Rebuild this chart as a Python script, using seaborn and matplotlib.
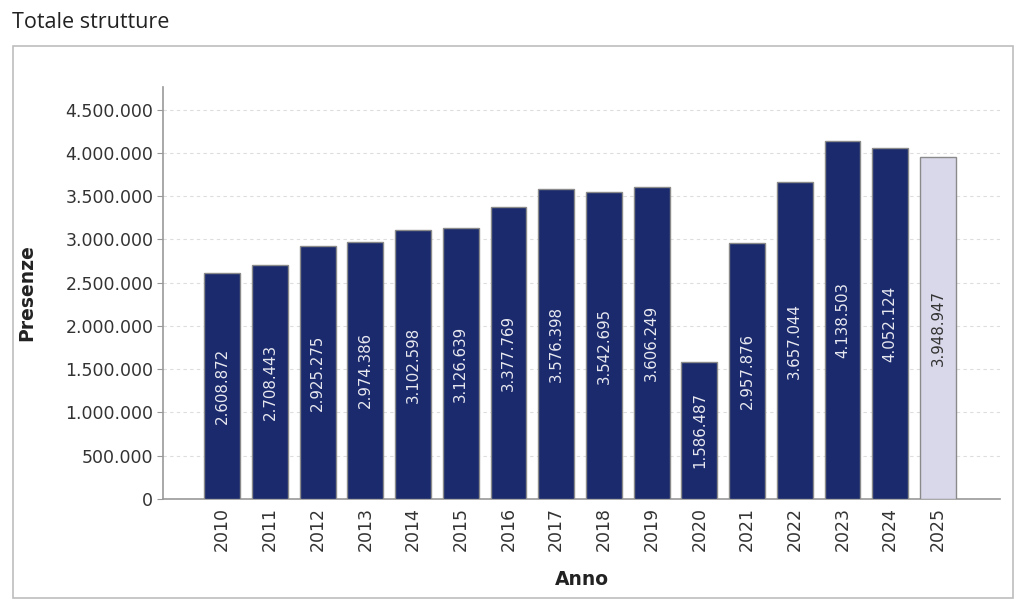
import matplotlib
matplotlib.use("Agg")
import matplotlib.pyplot as plt
import matplotlib.ticker as mticker
from matplotlib.patches import Rectangle
import seaborn as sns
import pandas as pd

years = ["2010", "2011", "2012", "2013", "2014", "2015", "2016", "2017",
         "2018", "2019", "2020", "2021", "2022", "2023", "2024", "2025"]
presenze = [2608872, 2708443, 2925275, 2974386, 3102598, 3126639, 3377769, 3576398,
            3542695, 3606249, 1586487, 2957876, 3657044, 4138503, 4052124, 3948947]
bar_colors = ["#1a2a6c"] * 15 + ["#d9d8ea"]
label_colors = ["#e8e8f0"] * 15 + ["#333333"]

def it_fmt(v):
    return f"{int(v):,}".replace(",", ".")

sns.set_style("white")
plt.rcParams["font.family"] = ["sans-serif"]
plt.rcParams["font.sans-serif"] = ["DejaVu Sans"]
FAM = ["DejaVu Sans"]

df = pd.DataFrame({"Anno": years, "Presenze": presenze})

fig = plt.figure(figsize=(10.24, 6.14), dpi=100)
ax = fig.add_axes([163 / 1024, 1 - 499 / 614, (1000 - 163) / 1024, (499 - 87) / 614])

sns.barplot(data=df, x="Anno", y="Presenze", hue="Anno", palette=bar_colors,
            legend=False, width=0.75, edgecolor="#8a8a8a", linewidth=1.0,
            saturation=1, ax=ax, zorder=3)

for i, (v, c) in enumerate(zip(presenze, label_colors)):
    ax.text(i, v / 2, it_fmt(v), rotation=90, ha="center", va="center",
            color=c, fontsize=10.8, family=FAM, zorder=4)

ax.set_xlim(-1.24, 16.3)
ax.set_ylim(0, 4760000)
ax.yaxis.set_major_locator(mticker.MultipleLocator(500000))
ax.yaxis.set_major_formatter(mticker.FuncFormatter(lambda v, p: it_fmt(v)))
ax.grid(axis="y", color="#dddddd", linestyle=(0, (3, 3)), linewidth=0.8, zorder=0)
ax.set_axisbelow(True)

for s in ["top", "right"]:
    ax.spines[s].set_visible(False)
for s in ["left", "bottom"]:
    ax.spines[s].set_color("#999999")
    ax.spines[s].set_linewidth(1.2)

ax.tick_params(axis="y", left=True, length=4, color="#999999", labelsize=12.5,
               labelcolor="#333333", pad=3)
ax.tick_params(axis="x", bottom=False, labelsize=12.5, labelcolor="#333333",
               labelrotation=90, pad=2)
for lab in ax.get_xticklabels() + ax.get_yticklabels():
    lab.set_family(FAM)

ax.set_xlabel("Anno", fontsize=13.5, fontweight="bold", color="#222222", labelpad=14, family=FAM)
ax.set_ylabel("Presenze", fontsize=13.5, fontweight="bold", color="#222222", labelpad=21, family=FAM)

# outer frame
fig.patches.append(Rectangle((13 / 1024, 1 - 598 / 614), 1000 / 1024, 552 / 614,
                             transform=fig.transFigure, fill=False,
                             edgecolor="#bdbdbd", linewidth=1.2, zorder=0))

fig.text(12 / 1024, 1 - 22 / 614, "Totale strutture", fontsize=15.5,
         family=["Open Sans", "DejaVu Sans"], color="#222222", ha="left", va="center")

fig.savefig("out.png", dpi=100, facecolor="white")
